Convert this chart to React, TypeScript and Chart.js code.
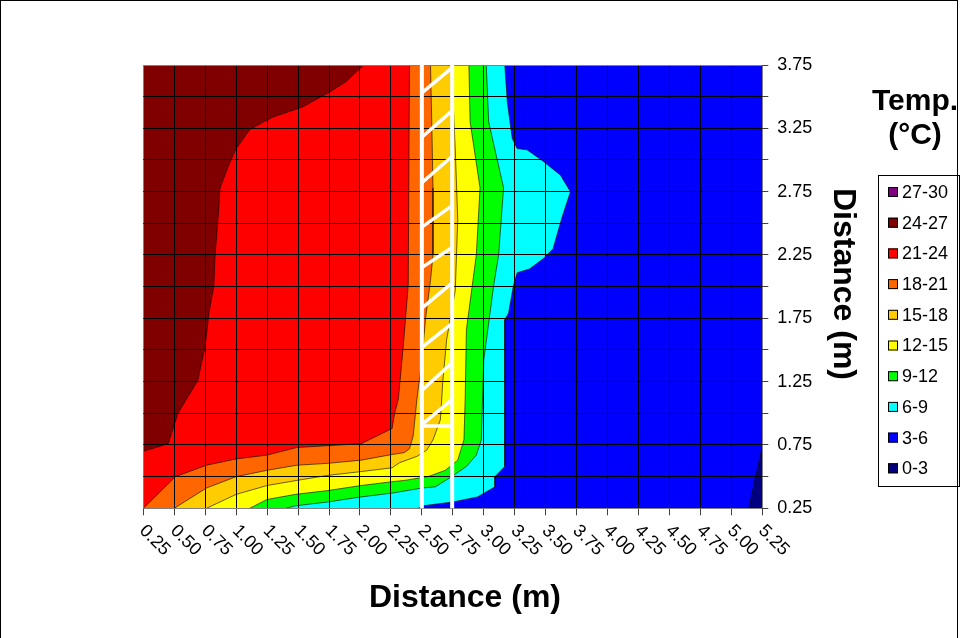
import React, { useEffect, useRef } from 'react';
import { Chart, registerables } from 'chart.js';

Chart.register(...registerables);

type Pt = [number, number];

// Axis ranges
const X_MIN = 0.25, X_MAX = 5.25, Y_MIN = 0.25, Y_MAX = 3.75, STEP = 0.25;

// Legend
const legendLabels = ['27-30', '24-27', '21-24', '18-21', '15-18', '12-15', '9-12', '6-9', '3-6', '0-3'];
const legendColors = ['#800080', '#800000', '#FF0000', '#FF6600', '#FFCC00', '#FFFF00', '#00FF00', '#00FFFF', '#0000FF', '#000080'];

// Contour boundaries (x, y in metres)
const b24: Pt[] = [[2.03, 3.75], [1.89, 3.62], [1.76, 3.54], [1.54, 3.42], [1.30, 3.34], [1.22, 3.30], [1.11, 3.24], [1.00, 3.09], [0.94, 2.96], [0.87, 2.78], [0.86, 2.62], [0.83, 2.25], [0.82, 2.01], [0.78, 1.79], [0.75, 1.53], [0.69, 1.26], [0.53, 1.00], [0.45, 0.76], [0.25, 0.70]];
const b21: Pt[] = [[2.40, 3.75], [2.39, 2.01], [2.35, 1.53], [2.31, 1.11], [2.28, 1.00], [2.26, 0.88], [2.01, 0.76], [1.49, 0.73], [1.25, 0.67], [1.00, 0.64], [0.76, 0.59], [0.51, 0.50], [0.25, 0.25]];
const b18: Pt[] = [[2.57, 3.75], [2.58, 3.30], [2.59, 2.78], [2.59, 2.25], [2.57, 2.05], [2.53, 1.75], [2.50, 1.42], [2.46, 1.11], [2.43, 0.82], [2.40, 0.72], [2.36, 0.69], [2.26, 0.675], [2.01, 0.63], [1.74, 0.605], [1.49, 0.59], [1.25, 0.55], [1.00, 0.50], [0.76, 0.41], [0.50, 0.25]];
const b15: Pt[] = [[2.74, 3.75], [2.77, 3.08], [2.79, 2.53], [2.77, 1.97], [2.70, 1.58], [2.67, 1.26], [2.65, 0.95], [2.59, 0.79], [2.54, 0.71], [2.46, 0.66], [2.32, 0.61], [2.26, 0.57], [2.01, 0.54], [1.74, 0.51], [1.49, 0.47], [1.25, 0.43], [1.00, 0.36], [0.76, 0.25]];
const b12: Pt[] = [[2.88, 3.75], [2.89, 3.30], [2.97, 2.78], [2.94, 2.25], [2.86, 1.66], [2.85, 1.11], [2.84, 0.79], [2.79, 0.63], [2.69, 0.55], [2.55, 0.50], [2.36, 0.47], [2.26, 0.46], [2.01, 0.43], [1.74, 0.39], [1.48, 0.36], [1.25, 0.32], [1.11, 0.25]];
const b9: Pt[] = [[3.02, 3.75], [3.04, 3.30], [3.16, 2.78], [3.12, 2.25], [3.08, 2.01], [3.00, 1.42], [2.98, 0.79], [2.94, 0.67], [2.86, 0.58], [2.74, 0.50], [2.61, 0.42], [2.50, 0.41], [2.26, 0.37], [2.01, 0.34], [1.74, 0.30], [1.48, 0.27], [1.40, 0.25]];
const b6: Pt[] = [[3.17, 3.75], [3.19, 3.46], [3.23, 3.17], [3.27, 3.09], [3.35, 3.08], [3.48, 2.99], [3.62, 2.88], [3.70, 2.75], [3.63, 2.54], [3.56, 2.30], [3.48, 2.22], [3.37, 2.14], [3.27, 2.11], [3.24, 2.01], [3.20, 1.79], [3.17, 1.74], [3.17, 0.58], [3.09, 0.50], [3.09, 0.42], [2.95, 0.34], [2.75, 0.30], [2.51, 0.27], [2.47, 0.25]];
const b3: Pt[] = [[5.14, 0.25], [5.25, 0.74]];

// Hatched annotation (white)
const hatchX = [2.5, 2.745];
const hatchLowY = [3.53, 3.18, 2.82, 2.47, 2.15, 1.83, 1.52, 1.18, 0.91];
const hatchHighY = [3.73, 3.39, 3.03, 2.64, 2.31, 2.03, 1.71, 1.40, 1.11];
const hatchBaseY = 0.90;

const FONT = '"Liberation Sans", Arial, Helvetica, sans-serif';

const toXY = (pts: Pt[]) => pts.map(([x, y]) => ({ x, y }));

// region where value >= level: left/top side of the boundary
const upperRegion = (b: Pt[]) => {
  const pts: Pt[] = [[X_MIN, Y_MAX], ...b];
  const last = b[b.length - 1];
  if (last[1] <= Y_MIN && last[0] > X_MIN) pts.push([X_MIN, Y_MIN]);
  return toXY(pts);
};

const fillSet = (data: any[], color: string, order: number) => ({
  type: 'scatter' as const,
  data,
  showLine: true,
  fill: 'shape',
  backgroundColor: color,
  borderWidth: 0,
  borderColor: color,
  pointRadius: 0,
  pointHoverRadius: 0,
  order,
});

const lineSet = (b: Pt[]) => ({
  type: 'scatter' as const,
  data: toXY(b),
  showLine: true,
  fill: false,
  borderColor: 'rgba(0,0,0,0.75)',
  borderWidth: 0.8,
  pointRadius: 0,
  pointHoverRadius: 0,
  order: 0,
});

const overlay = {
  id: 'overlay',
  afterDraw(chart: any) {
    const { ctx, scales } = chart;
    const xs = scales.x, ys = scales.y;
    ctx.save();

    // hatched white annotation
    const xl = xs.getPixelForValue(hatchX[0]);
    const xr = xs.getPixelForValue(hatchX[1]);
    const yb = ys.getPixelForValue(Y_MIN);
    const yt = ys.getPixelForValue(Y_MAX);
    ctx.strokeStyle = '#FFFFFF';
    ctx.lineCap = 'butt';
    ctx.lineWidth = 3.5;
    ctx.beginPath();
    hatchLowY.forEach((lo, i) => {
      ctx.moveTo(xl, ys.getPixelForValue(lo));
      ctx.lineTo(xr, ys.getPixelForValue(hatchHighY[i]));
    });
    ctx.moveTo(xl, ys.getPixelForValue(hatchBaseY));
    ctx.lineTo(xr, ys.getPixelForValue(hatchBaseY));
    ctx.stroke();
    ctx.lineWidth = 4;
    ctx.beginPath();
    ctx.moveTo(xl, yb); ctx.lineTo(xl, yt);
    ctx.moveTo(xr, yb); ctx.lineTo(xr, yt);
    ctx.stroke();

    // x tick labels rotated 45deg clockwise
    ctx.fillStyle = '#000';
    ctx.font = `18px ${FONT}`;
    ctx.textAlign = 'left';
    ctx.textBaseline = 'middle';
    xs.ticks.forEach((t: any) => {
      const px = xs.getPixelForValue(t.value);
      ctx.save();
      ctx.translate(px - 1, 528);
      ctx.rotate(Math.PI / 4);
      ctx.fillText(t.value.toFixed(2), 0, 0);
      ctx.restore();
    });

    // axis titles
    ctx.font = `bold 32px ${FONT}`;
    ctx.textAlign = 'center';
    ctx.textBaseline = 'middle';
    ctx.fillText('Distance (m)', 465, 598);
    ctx.save();
    ctx.translate(843, 284);
    ctx.rotate(Math.PI / 2);
    ctx.fillText('Distance (m)', 0, 0);
    ctx.restore();

    // legend
    ctx.font = `bold 30px ${FONT}`;
    ctx.fillText('Temp.', 915, 102);
    ctx.fillText('(°C)', 915, 136);
    ctx.strokeStyle = '#000';
    ctx.lineWidth = 1;
    ctx.strokeRect(878.5, 175.5, 81, 311);
    ctx.font = `18px ${FONT}`;
    ctx.textAlign = 'left';
    legendLabels.forEach((lab, i) => {
      const cy = 192 + i * 30.7;
      ctx.fillStyle = legendColors[i];
      ctx.fillRect(888, cy - 5, 10, 10);
      ctx.strokeStyle = '#000';
      ctx.strokeRect(888.5, cy - 4.5, 9, 9);
      ctx.fillStyle = '#000';
      ctx.fillText(lab, 902, cy + 1);
    });

    // outer frame
    ctx.strokeStyle = '#000';
    ctx.lineWidth = 1;
    ctx.strokeRect(0.5, 0.5, 957, 660);
    ctx.restore();
  },
};

export default function App() {
  const ref = useRef<HTMLCanvasElement | null>(null);

  useEffect(() => {
    if (!ref.current) return;
    const background = toXY([[X_MIN, Y_MIN], [X_MAX, Y_MIN], [X_MAX, Y_MAX], [X_MIN, Y_MAX]]);
    const navy = toXY([...b3, [X_MAX, Y_MIN]]);
    const datasets: any[] = [
      lineSet(b24), lineSet(b21), lineSet(b18), lineSet(b15), lineSet(b12), lineSet(b9), lineSet(b6), lineSet(b3),
      fillSet(upperRegion(b24), '#800000', 1),
      fillSet(upperRegion(b21), '#FF0000', 2),
      fillSet(upperRegion(b18), '#FF6600', 3),
      fillSet(upperRegion(b15), '#FFCC00', 4),
      fillSet(upperRegion(b12), '#FFFF00', 5),
      fillSet(upperRegion(b9), '#00FF00', 6),
      fillSet(upperRegion(b6), '#00FFFF', 7),
      fillSet(navy, '#000080', 8),
      fillSet(background, '#0000FF', 9),
    ];
    const edgeColor = (ctx: any, n: number) => (ctx.index === 0 || ctx.index === n ? '#808080' : '#000000');
    const chart = new Chart(ref.current, {
      type: 'scatter',
      data: { datasets },
      options: {
        animation: false,
        responsive: false,
        events: [],
        layout: { padding: { left: 143.3, top: 65, right: 0, bottom: 0 } },
        plugins: { legend: { display: false }, tooltip: { enabled: false }, title: { display: false } },
        scales: {
          x: {
            type: 'linear',
            min: X_MIN,
            max: X_MAX,
            ticks: { stepSize: STEP, display: false },
            grid: { z: 1, color: (c: any) => edgeColor(c, 20), lineWidth: 1, tickLength: 7, tickColor: '#404040', drawTicks: true },
            border: { display: false },
            afterFit: (s: any) => { s.height = 638 - 508.3; },
          },
          y: {
            type: 'linear',
            position: 'right',
            min: Y_MIN,
            max: Y_MAX,
            ticks: {
              stepSize: STEP,
              padding: 9,
              color: '#000',
              font: { size: 18, family: FONT },
              callback: (v: any) => {
                const k = Math.round((Number(v) - Y_MIN) / STEP);
                return k % 2 === 0 ? Number(v).toFixed(2) : '';
              },
            },
            grid: { z: 1, color: (c: any) => edgeColor(c, 14), lineWidth: 1, tickLength: 6, tickColor: '#404040' },
            border: { display: false },
            afterFit: (s: any) => { s.width = 964 - 762.3; },
          },
        },
      } as any,
      plugins: [overlay],
    });
    return () => chart.destroy();
  }, []);

  return (
    <div style={{ position: 'fixed', left: 0, top: 0, width: 964, height: 638, background: '#fff' }}>
      <canvas ref={ref} width={964} height={638} style={{ display: 'block', width: 964, height: 638 }} />
    </div>
  );
}
